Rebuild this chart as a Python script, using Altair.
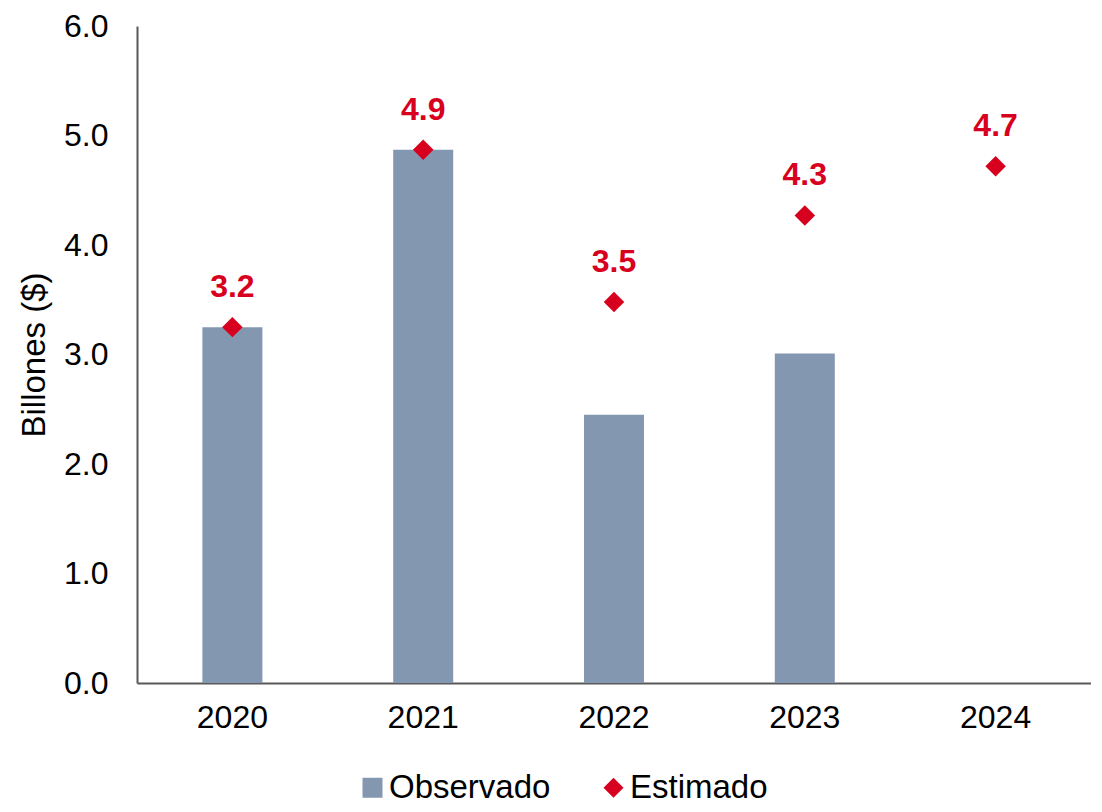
import altair as alt
import pandas as pd

years = ["2020", "2021", "2022", "2023", "2024"]
observado = [3.25, 4.87, 2.45, 3.01, None]
estimado = [3.25, 4.87, 3.48, 4.27, 4.72]
labels = ["3.2", "4.9", "3.5", "4.3", "4.7"]

GRAY = "#8497B0"
RED = "#D7001E"
FONT = "Liberation Sans"

bars_df = pd.DataFrame({"year": years, "value": observado, "serie": "Observado"}).dropna()
pts_df = pd.DataFrame({"year": years, "value": estimado, "label": labels, "serie": "Estimado"})

x = alt.X("year:N", sort=years, title=None,
          scale=alt.Scale(paddingInner=0, paddingOuter=0),
          axis=alt.Axis(labelAngle=0, labelFontSize=32, labelFont=FONT, labelColor="#000000",
                        ticks=False, labelPadding=19, domainColor="#595959", domainWidth=2))
y = alt.Y("value:Q", title="Billones ($)",
          scale=alt.Scale(domain=[0, 6], nice=False),
          axis=alt.Axis(values=[0, 1, 2, 3, 4, 5, 6], format=".1f", grid=False, ticks=False,
                        labelFontSize=32, labelFont=FONT, labelColor="#000000", labelPadding=29,
                        titleFontSize=33, titleFont=FONT, titleFontWeight="normal", titleColor="#000000",
                        titlePadding=12, domainColor="#595959", domainWidth=2))

leg = alt.Legend(title=None, orient="none", legendX=219, legendY=745,
                 direction="horizontal", labelFontSize=33, labelFont=FONT, labelLimit=400,
                 labelColor="#000000", symbolSize=400, columnPadding=46,
                 labelOffset=0, symbolStrokeWidth=0, padding=0)
domain = ["Observado", "Estimado"]
color = alt.Color("serie:N", scale=alt.Scale(domain=domain, range=[GRAY, RED]), legend=leg)
shape = alt.Shape("serie:N", scale=alt.Scale(domain=domain, range=["square", "diamond"]), legend=leg)

bars = alt.Chart(bars_df).mark_bar(size=60, color=GRAY).encode(x=x, y=y, color=color)
pts = alt.Chart(pts_df).mark_point(filled=True, size=420, opacity=1).encode(
    x=x, y=y, color=color, shape=shape)
txt = alt.Chart(pts_df).mark_text(dy=-40, fontSize=32, fontWeight="bold", font=FONT, color=RED).encode(
    x=x, y=y, text="label:N")

chart = alt.layer(bars, pts, txt).properties(
    width=954, height=657,
    autosize=alt.AutoSizeParams(type="none"),
    padding={"left": 129, "top": 18, "right": 0, "bottom": 121},
    background="white",
).configure_view(stroke=None)

chart.save("out.html", embed_options={"renderer": "svg", "actions": False})
